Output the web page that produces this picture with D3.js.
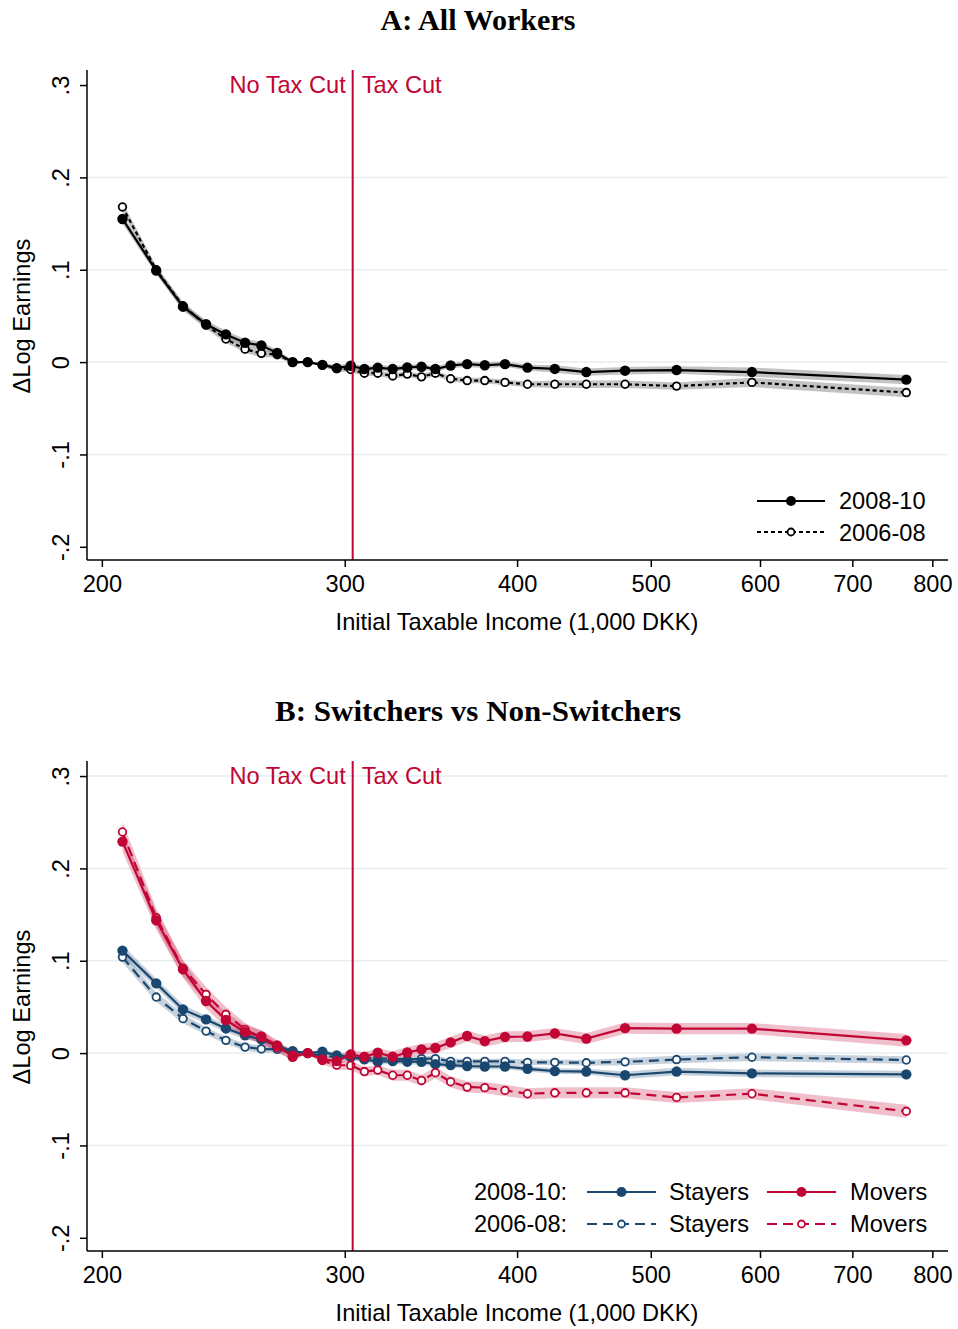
<!DOCTYPE html>
<html>
<head>
<meta charset="utf-8">
<script src="https://cdn.jsdelivr.net/npm/d3@7"></script>
<style>
  body { margin: 0; background: #fff; }
  text { font-family: "Liberation Sans", Arial, sans-serif; }
</style>
</head>
<body>
<svg width="958" height="1329"></svg>
<script>
// income bins (1,000 DKK), shared by both panels
var incomeK = [207, 219, 229, 238, 246, 254, 261, 268, 275, 282, 289, 296, 303, 310, 317,
               325, 333, 341, 349, 358, 368, 379, 392, 407, 426, 449, 479, 522, 592, 766];
var cutoff = 304;
var xTicks = [200, 300, 400, 500, 600, 700, 800];
var yTicks = [-0.2, -0.1, 0, 0.1, 0.2, 0.3];
var yTickLabels = ['-.2', '-.1', '0', '.1', '.2', '.3'];

// panel A: all workers
var allWorkers0810 = [0.155, 0.099, 0.060, 0.041, 0.030, 0.021, 0.018, 0.010, 0.000, 0.000,
                      -0.003, -0.0065, -0.004, -0.0075, -0.006, -0.0075, -0.0058, -0.005, -0.0075, -0.0037,
                      -0.0022, -0.0034, -0.0022, -0.006, -0.0074, -0.0108, -0.0093, -0.0086, -0.0108, -0.019];
var allWorkers0608 = [0.168, 0.100, 0.061, 0.040, 0.025, 0.014, 0.0095, 0.008, 0.000, 0.000,
                      -0.003, -0.007, -0.008, -0.012, -0.012, -0.015, -0.013, -0.016, -0.012, -0.018,
                      -0.020, -0.020, -0.022, -0.024, -0.024, -0.024, -0.024, -0.026, -0.022, -0.033];
var ciAll = [0.005, 0.004, 0.004, 0.004, 0.004, 0.004, 0.004, 0.003, 0.002, 0.000,
             0.002, 0.003, 0.003, 0.003, 0.003, 0.003, 0.003, 0.003, 0.003, 0.003,
             0.003, 0.003, 0.003, 0.003, 0.004, 0.004, 0.004, 0.004, 0.005, 0.005];

// panel B: stayers / movers
var stayers0810 = [0.111, 0.0755, 0.0473, 0.0365, 0.0267, 0.0192, 0.0148, 0.0076, 0.002, 0.000,
                   0.0015, -0.0025, -0.004, -0.0068, -0.0093, -0.0087, -0.0093, -0.0095, -0.012, -0.013,
                   -0.014, -0.0145, -0.0145, -0.017, -0.0195, -0.020, -0.024, -0.020, -0.022, -0.023];
var stayers0608 = [0.104, 0.0607, 0.0373, 0.0238, 0.0138, 0.0065, 0.0045, 0.004, 0.002, 0.000,
                   -0.003, -0.004, -0.005, -0.005, -0.006, -0.006, -0.007, -0.006, -0.006, -0.009,
                   -0.009, -0.009, -0.009, -0.010, -0.010, -0.0105, -0.0095, -0.007, -0.0045, -0.0075];
var movers0810 = [0.229, 0.1438, 0.0907, 0.0564, 0.0358, 0.0228, 0.018, 0.0083, -0.004, 0.000,
                  -0.0068, -0.0087, -0.0014, -0.004, 0.0004, -0.004, 0.0006, 0.004, 0.0055, 0.0116,
                  0.0185, 0.013, 0.0176, 0.018, 0.0213, 0.0157, 0.027, 0.0265, 0.0265, 0.0138];
var movers0608 = [0.2394, 0.1467, 0.092, 0.0636, 0.042, 0.0257, 0.017, 0.006, -0.002, 0.000,
                  -0.008, -0.013, -0.0133, -0.020, -0.0184, -0.024, -0.024, -0.0296, -0.0213, -0.031,
                  -0.0368, -0.0374, -0.0404, -0.044, -0.043, -0.043, -0.043, -0.048, -0.044, -0.063];
var ciStayers = [0.006, 0.005, 0.005, 0.004, 0.004, 0.004, 0.004, 0.003, 0.002, 0.000,
                 0.002, 0.003, 0.003, 0.003, 0.003, 0.003, 0.003, 0.003, 0.003, 0.003,
                 0.003, 0.003, 0.003, 0.003, 0.003, 0.003, 0.004, 0.004, 0.004, 0.004];
var ciMovers = [0.011, 0.010, 0.009, 0.008, 0.008, 0.007, 0.007, 0.006, 0.005, 0.000,
                0.004, 0.005, 0.005, 0.005, 0.005, 0.006, 0.006, 0.006, 0.006, 0.006,
                0.006, 0.006, 0.006, 0.006, 0.006, 0.006, 0.006, 0.006, 0.006, 0.007];

var RED = '#c10534', BLUE = '#1a476f', GRID = '#e6eef0';
var FS = '23.6px';
var svg = d3.select('svg');

var x = d3.scaleLog().domain([195.1, 821.2]).range([87, 948]);
var y = d3.scaleLinear().domain([-0.2143, 0.3163]).range([560, 70]);

function panel(off, title, titleLen, gridVals, series, legend) {
  var g = svg.append('g').attr('transform', 'translate(0,' + off + ')');

  g.append('text').attr('x', 478).attr('y', 30).attr('text-anchor', 'middle')
    .style('font-family', '"Liberation Serif", "DejaVu Serif", serif')
    .style('font-weight', 'bold').style('font-size', '29px')
    .attr('textLength', titleLen).attr('lengthAdjust', 'spacingAndGlyphs')
    .text(title);

  g.selectAll('.grid').data(gridVals).enter().append('line')
    .attr('x1', 88).attr('x2', 948)
    .attr('y1', function (d) { return y(d); }).attr('y2', function (d) { return y(d); })
    .attr('stroke', GRID).attr('stroke-width', 1.5);

  // confidence bands first
  series.forEach(function (s) {
    var area = d3.area()
      .x(function (d, i) { return x(incomeK[i]); })
      .y0(function (d, i) { return y(d - s.ci[i]); })
      .y1(function (d, i) { return y(d + s.ci[i]); });
    g.append('path').datum(s.values).attr('d', area)
      .attr('fill', s.band).attr('fill-opacity', s.bandOpacity);
  });

  series.forEach(function (s) {
    var line = d3.line()
      .x(function (d, i) { return x(incomeK[i]); })
      .y(function (d) { return y(d); });
    g.append('path').datum(s.values).attr('d', line)
      .attr('fill', 'none').attr('stroke', s.color).attr('stroke-width', 2.2)
      .attr('stroke-dasharray', s.dash || null);
    g.selectAll(null).data(s.values).enter().append('circle')
      .attr('cx', function (d, i) { return x(incomeK[i]); })
      .attr('cy', function (d) { return y(d); })
      .attr('r', s.open ? 3.8 : 5.2)
      .attr('fill', s.open ? '#fff' : s.color)
      .attr('stroke', s.color).attr('stroke-width', s.open ? 1.8 : 0);
  });

  // cutoff line + labels
  g.append('line').attr('x1', x(cutoff)).attr('x2', x(cutoff)).attr('y1', 70).attr('y2', 560)
    .attr('stroke', RED).attr('stroke-width', 2);
  g.append('text').attr('x', x(cutoff) - 7).attr('y', 93).attr('text-anchor', 'end')
    .attr('fill', RED).style('font-size', FS).text('No Tax Cut');
  g.append('text').attr('x', x(cutoff) + 9).attr('y', 93)
    .attr('fill', RED).style('font-size', FS).text('Tax Cut');

  // axes
  var ya = g.append('g').attr('transform', 'translate(87,0)')
    .call(d3.axisLeft(y).tickValues(yTicks).tickSize(7).tickPadding(0)
      .tickFormat(function (d, i) { return yTickLabels[i]; }));
  ya.select('.domain').attr('d', 'M0,70V560').attr('stroke-width', 1.5);
  ya.selectAll('.tick line').attr('stroke-width', 1.5);
  ya.selectAll('.tick text').attr('transform', 'rotate(-90)')
    .attr('x', 0).attr('y', -18).attr('dy', 0).attr('text-anchor', 'middle')
    .style('font-size', FS).attr('fill', '#000');

  var xa = g.append('g').attr('transform', 'translate(0,560)')
    .call(d3.axisBottom(x).tickValues(xTicks).tickSize(7).tickPadding(8)
      .tickFormat(d3.format('d')));
  xa.select('.domain').attr('d', 'M87,0H948').attr('stroke-width', 1.5);
  xa.selectAll('.tick line').attr('stroke-width', 1.5);
  xa.selectAll('.tick text').style('font-size', FS).attr('fill', '#000');

  g.append('text').attr('x', 517).attr('y', 630).attr('text-anchor', 'middle')
    .style('font-size', FS).text('Initial Taxable Income (1,000 DKK)');
  g.append('text').attr('transform', 'translate(30,316) rotate(-90)').attr('text-anchor', 'middle')
    .style('font-size', FS).text('\u0394Log Earnings');

  legend(g);
}

function legendKey(g, x0, x1, cy, color, open, dash) {
  g.append('line').attr('x1', x0).attr('x2', x1).attr('y1', cy).attr('y2', cy)
    .attr('stroke', color).attr('stroke-width', 2.2).attr('stroke-dasharray', dash || null);
  g.append('circle').attr('cx', (x0 + x1) / 2).attr('cy', cy).attr('r', open ? 3.5 : 5)
    .attr('fill', open ? '#fff' : color).attr('stroke', color).attr('stroke-width', open ? 1.8 : 0);
}

function label(g, x0, y0, t) {
  g.append('text').attr('x', x0).attr('y', y0).style('font-size', FS).text(t);
}

panel(0, 'A: All Workers', 195, [0.2, 0.1, 0, -0.1], [
  { values: allWorkers0608, ci: ciAll, color: '#000', open: true, dash: '4,3', band: '#888', bandOpacity: 0.5 },
  { values: allWorkers0810, ci: ciAll, color: '#000', open: false, band: '#888', bandOpacity: 0.5 }
], function (g) {
  legendKey(g, 757, 825, 501, '#000', false);
  legendKey(g, 757, 825, 532, '#000', true, '4,3');
  label(g, 839, 509, '2008-10');
  label(g, 839, 541, '2006-08');
});

panel(691, 'B: Switchers vs Non-Switchers', 406, [0.3, 0.2, 0.1, 0, -0.1], [
  { values: stayers0608, ci: ciStayers, color: BLUE, open: true, dash: '10,6', band: BLUE, bandOpacity: 0.25 },
  { values: stayers0810, ci: ciStayers, color: BLUE, open: false, band: BLUE, bandOpacity: 0.25 },
  { values: movers0608, ci: ciMovers, color: RED, open: true, dash: '10,6', band: RED, bandOpacity: 0.25 },
  { values: movers0810, ci: ciMovers, color: RED, open: false, band: RED, bandOpacity: 0.25 }
], function (g) {
  label(g, 474, 509, '2008-10:');
  label(g, 474, 541, '2006-08:');
  legendKey(g, 587, 656, 501, BLUE, false);
  legendKey(g, 587, 656, 533, BLUE, true, '10,6');
  legendKey(g, 767, 836, 501, RED, false);
  legendKey(g, 767, 836, 533, RED, true, '10,6');
  label(g, 669, 509, 'Stayers');
  label(g, 669, 541, 'Stayers');
  label(g, 850, 509, 'Movers');
  label(g, 850, 541, 'Movers');
});
</script>
</body>
</html>
